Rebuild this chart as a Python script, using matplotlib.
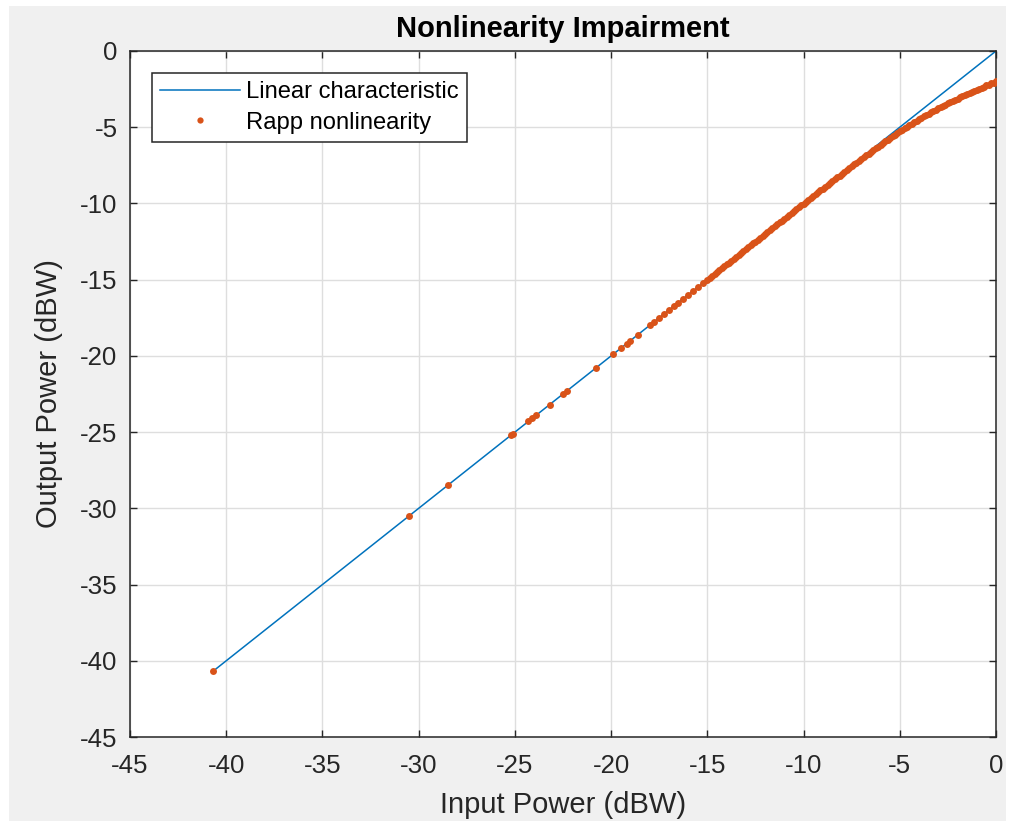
import matplotlib
matplotlib.use("Agg")
import matplotlib.pyplot as plt
from matplotlib.patches import Rectangle

plt.rcParams['font.family'] = ['Liberation Sans', 'DejaVu Sans']
plt.rcParams['axes.unicode_minus'] = False

# linear reference characteristic (input = output)
lin_x = [-40.7, 0.0]
lin_y = [-40.7, 0.0]

# Rapp nonlinearity samples, low power part (output equals input)
rapp_sparse = [-40.7, -30.5, -28.5, -25.2, -25.1, -24.3, -24.1, -23.9, -23.2,
               -22.5, -22.3, -20.8, -19.9, -19.5, -19.2, -19.0, -18.6]
rapp_dense = [-18.0, -17.75, -17.5, -17.25, -17.0, -16.75, -16.5, -16.25,
              -16.0, -15.75, -15.5, -15.25, -15.0, -14.75, -14.5, -14.25,
              -14.0, -13.75, -13.5, -13.25, -13.0, -12.75, -12.5, -12.25,
              -12.0, -11.75, -11.5, -11.25, -11.0, -10.75, -10.5, -10.25,
              -14.875, -14.625, -14.375, -14.125, -13.875, -13.625, -13.375,
              -13.125, -12.875, -12.625, -12.375, -12.125, -11.875, -11.625,
              -11.375, -11.125, -10.875, -10.625, -10.375, -10.125]

# compression region: input vs output
sat_in = [-10.0, -9.75, -9.5, -9.25, -9.0, -8.75, -8.5, -8.25, -8.0, -7.75,
          -7.5, -7.25, -7.0, -6.75, -6.5, -6.25, -6.0, -5.75, -5.5, -5.25,
          -5.0, -4.75, -4.5, -4.25, -4.0, -3.75, -3.5, -3.25, -3.0, -2.75,
          -2.5, -2.25, -2.0, -1.75, -1.5, -1.25, -1.0, -0.75, -0.5, -0.25, 0.0]
sat_out = [-10.01, -9.76, -9.52, -9.27, -9.02, -8.78, -8.53, -8.29, -8.04, -7.80,
           -7.56, -7.32, -7.08, -6.84, -6.61, -6.38, -6.15, -5.93, -5.71, -5.49,
           -5.28, -5.07, -4.87, -4.67, -4.48, -4.29, -4.11, -3.93, -3.76, -3.60,
           -3.44, -3.28, -3.12, -2.97, -2.83, -2.68, -2.54, -2.40, -2.26, -2.13, -2.00]
# extra samples in between, the points crowd together towards saturation
sat_in_mid = [-9.875, -9.625, -9.375, -9.125, -8.875, -8.625, -8.375, -8.125,
              -7.875, -7.625, -7.375, -7.125,
              -6.875, -6.625, -6.375, -6.125, -5.875, -5.625, -5.375, -5.125,
              -4.875, -4.625, -4.375, -4.125, -3.875, -3.625, -3.375, -3.125,
              -2.875, -2.625, -2.375, -2.125, -1.875, -1.625, -1.375, -1.125,
              -0.875, -0.625, -0.375, -0.125]
sat_out_mid = [-9.89, -9.64, -9.39, -9.14, -8.90, -8.65, -8.41, -8.17,
               -7.92, -7.68, -7.44, -7.20,
               -6.96, -6.73, -6.50, -6.27, -6.04, -5.82, -5.60, -5.39,
               -5.18, -4.97, -4.77, -4.58, -4.39, -4.20, -4.02, -3.85,
               -3.68, -3.52, -3.36, -3.20, -3.05, -2.90, -2.76, -2.61,
               -2.47, -2.33, -2.20, -2.07]

ticks = [-45, -40, -35, -30, -25, -20, -15, -10, -5, 0]

dark = '#262626'
blue = '#0072BD'
orange = '#D95319'

fig = plt.figure(figsize=(10.13, 8.21), dpi=100, facecolor='white')
fig.patches.append(Rectangle((9 / 1013, 0), (1006 - 9) / 1013, (821 - 6) / 821,
                             transform=fig.transFigure, facecolor='#f0f0f0',
                             edgecolor='none', zorder=-10))
ax = fig.add_axes([130 / 1013, 1 - 737 / 821, 866 / 1013, 686 / 821])
ax.set_facecolor('white')

ax.plot(lin_x, lin_y, color=blue, lw=1.1, label='Linear characteristic', zorder=2)
rapp_x = rapp_sparse + rapp_dense + sat_in + sat_in_mid
rapp_y = rapp_sparse + rapp_dense + sat_out + sat_out_mid
ax.plot(rapp_x, rapp_y, ls='none', marker='o', ms=5.0, mew=0, color=orange,
        label='Rapp nonlinearity', zorder=3)

ax.set_xlim(-45, 0)
ax.set_ylim(-45, 0)
ax.set_xticks(ticks)
ax.set_yticks(ticks)
ax.grid(True, color='#dedede', lw=1.0)
ax.set_axisbelow(True)
ax.tick_params(direction='in', length=5, width=1.0, colors=dark, labelsize=18.6,
               top=True, right=True)
ax.tick_params(axis='x', pad=12)
ax.tick_params(axis='y', pad=9)
for s in ax.spines.values():
    s.set_color(dark)
    s.set_linewidth(1.1)

ax.set_title('Nonlinearity Impairment', fontsize=21, fontweight='bold', color='black', pad=10)
ax.set_xlabel('Input Power (dBW)', fontsize=21, color=dark)
ax.set_ylabel('Output Power (dBW)', fontsize=21, color=dark)
ax.xaxis.set_label_coords(0.5, -0.079)
ax.yaxis.set_label_coords(-0.0774, 0.5)

leg = ax.legend(loc='upper left', bbox_to_anchor=(0.0254, 0.968), borderaxespad=0,
                fontsize=17.1, fancybox=False, framealpha=1, edgecolor=dark,
                handlelength=3.37, handletextpad=0.25, borderpad=0.35,
                labelspacing=0.35, markerscale=0.9)
leg.get_frame().set_linewidth(1.1)
for t in leg.get_texts():
    t.set_color('black')

fig.savefig('out.png', dpi=100, facecolor=fig.get_facecolor())
